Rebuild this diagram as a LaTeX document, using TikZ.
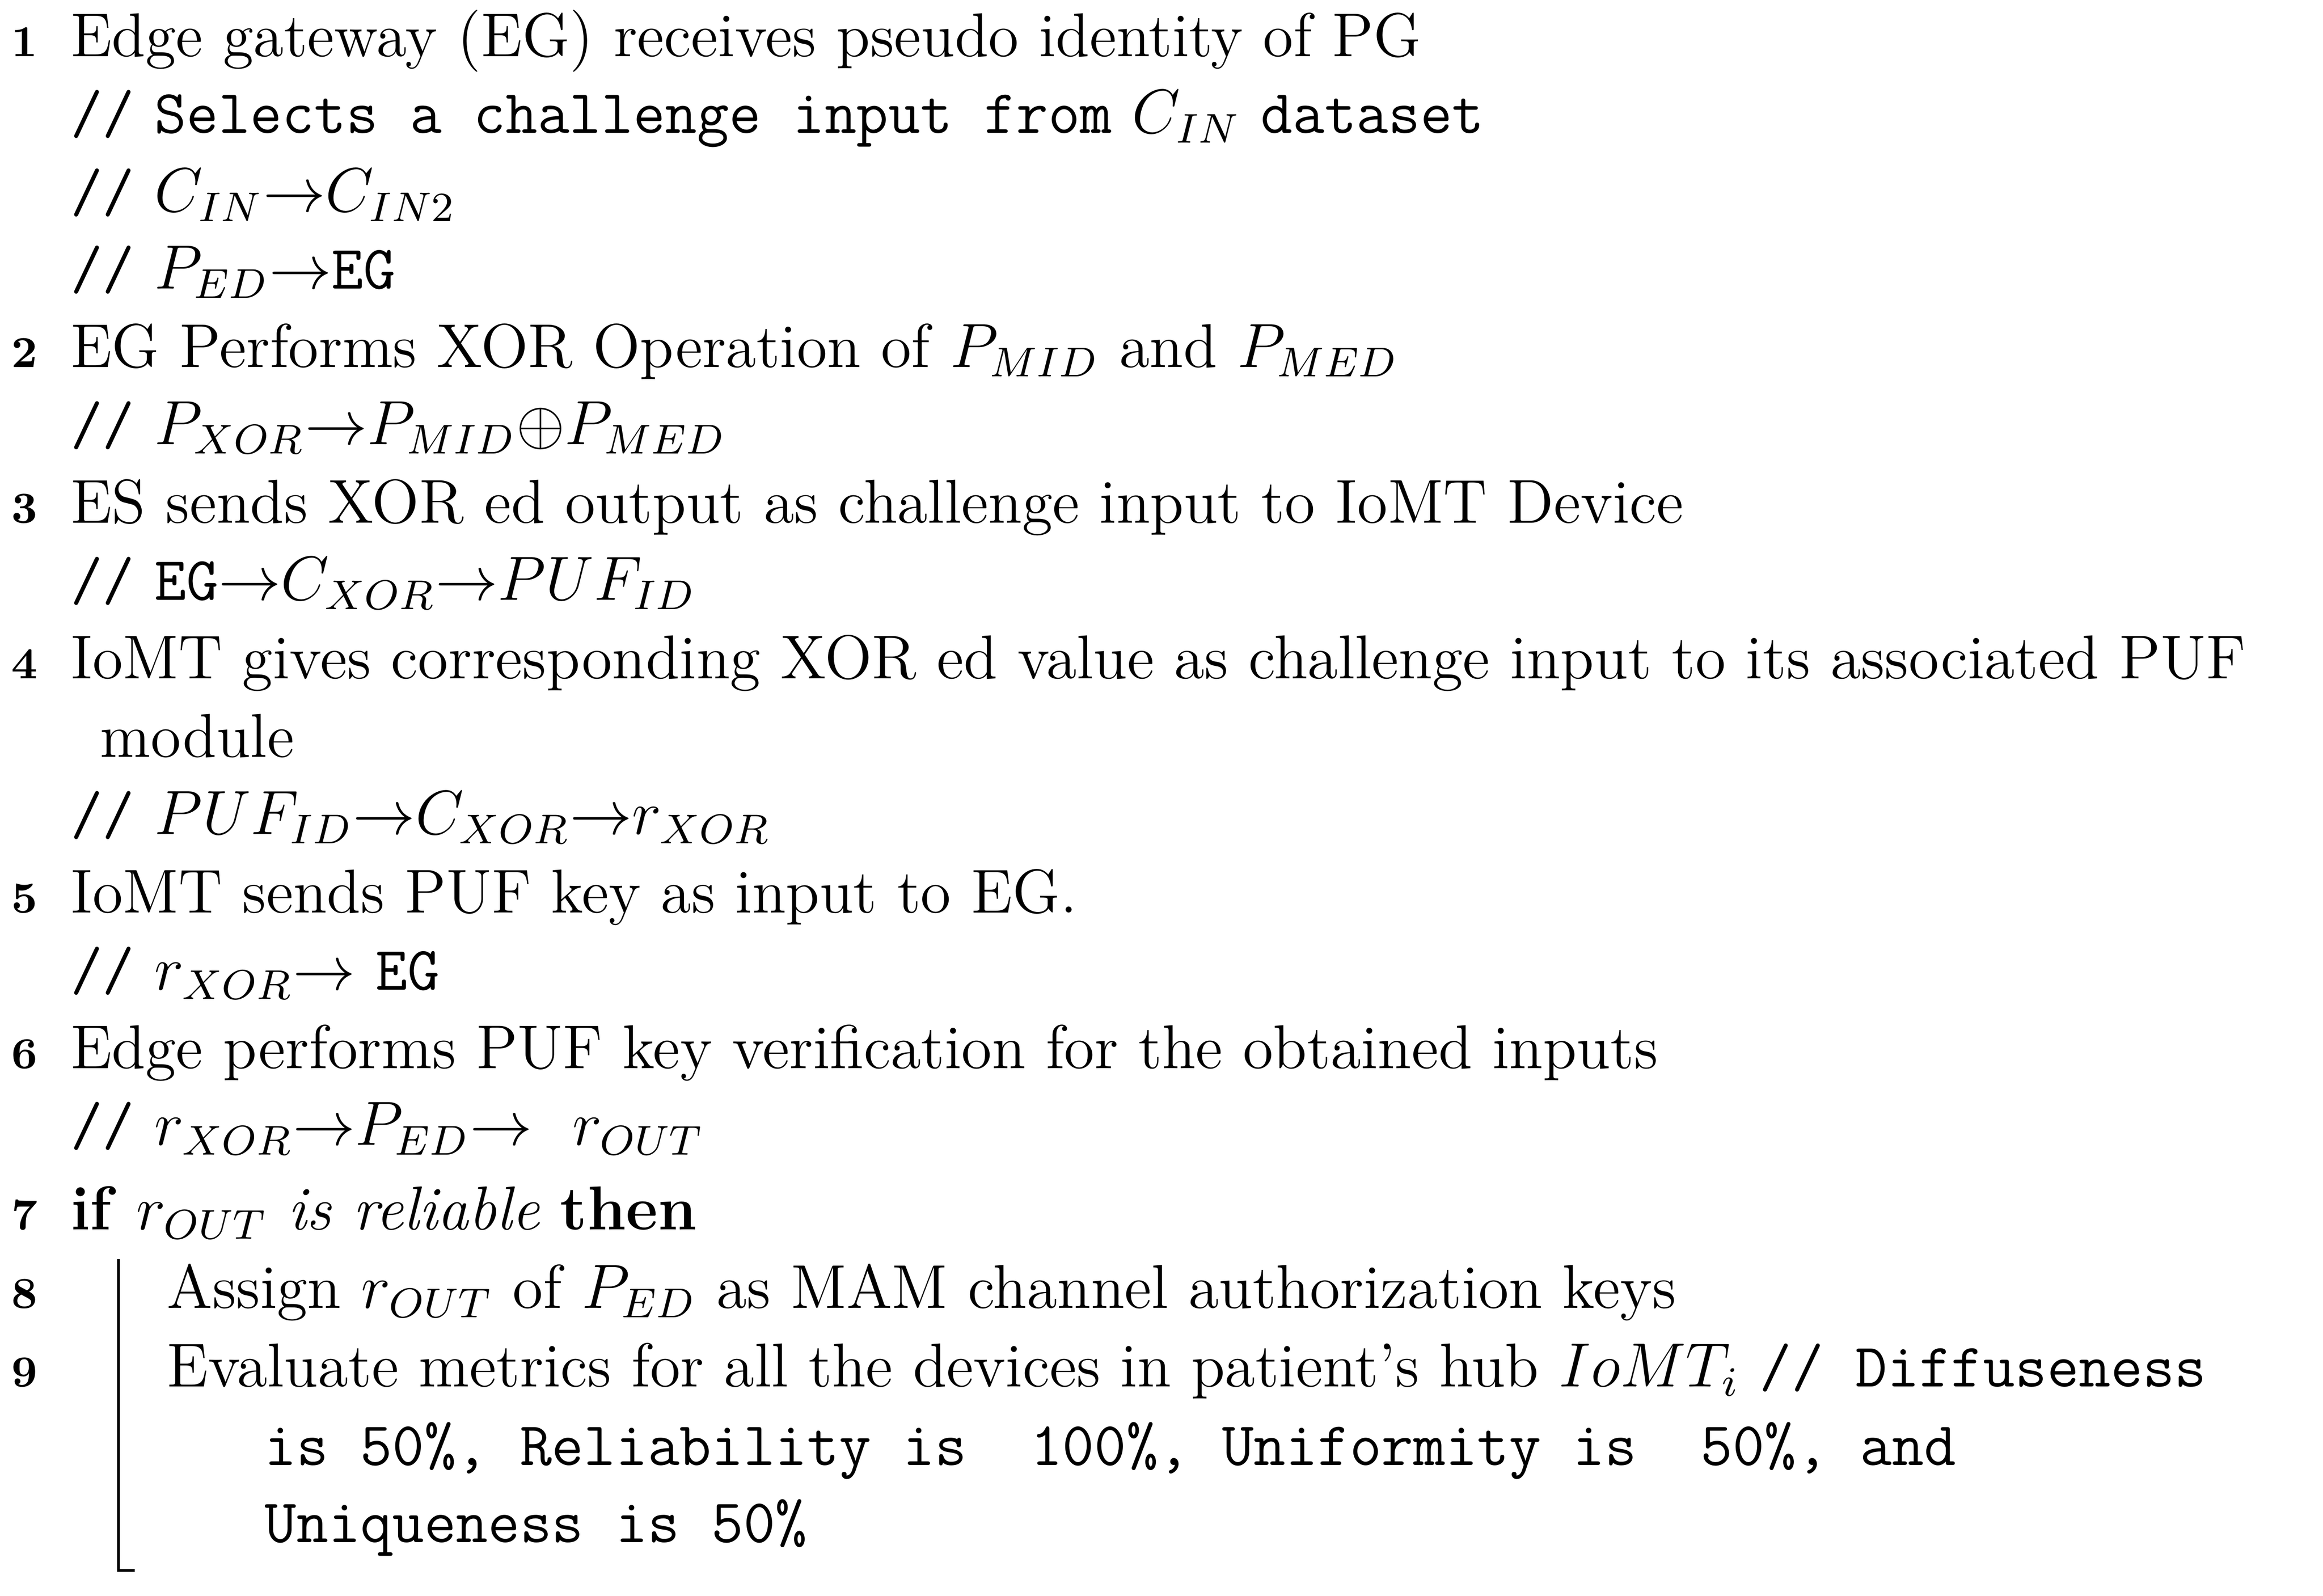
\documentclass[tikz,border=0pt]{standalone}
\begin{document}
\begin{tikzpicture}[x=0.1mm,y=-0.1mm,
  txt/.style={anchor=base west,inner sep=0pt,font=\fontsize{11.9}{14}\selectfont},
  num/.style={anchor=base east,inner sep=0pt,font=\fontsize{8.5}{10}\selectfont\bfseries}]
\useasboundingbox (0,0) rectangle (1568,1077);
\newcommand{\cm}{\texttt{//}\ }
\node[num] (n1) at (26,38) {1};
\node[txt] (l1) at (47,38) {Edge gateway (EG) receives pseudo identity of PG};
\node[txt] (c1) at (47,90) {\cm\texttt{Selects a challenge input from} $C_{IN}$ \texttt{dataset}};
\node[txt] (c2) at (47,143) {\cm$C_{IN}{\to}C_{IN2}$};
\node[txt] (c3) at (47,195) {\cm$P_{ED}{\to}$\texttt{EG}};
\node[num] (n2) at (26,248) {2};
\node[txt] (l2) at (47,248) {EG Performs XOR Operation of $P_{MID}$ and $P_{MED}$};
\node[txt] (c4) at (47,300) {\cm$P_{XOR}{\to}P_{MID}{\oplus}P_{MED}$};
\node[num] (n3) at (26,353) {3};
\node[txt] (l3) at (47,353) {ES sends XOR ed output as challenge input to IoMT Device};
\node[txt] (c5) at (47,405) {\cm\texttt{EG}${\to}C_{XOR}{\to}PUF_{ID}$};
\node[num] (n4) at (26,458) {4};
\node[txt] (l4) at (47,458) {IoMT gives corresponding XOR ed value as challenge input to its associated PUF};
\node[txt] (l4b) at (67,511) {module};
\node[txt] (c6) at (47,563) {\cm$PUF_{ID}{\to}C_{XOR}{\to}r_{XOR}$};
\node[num] (n5) at (26,616) {5};
\node[txt] (l5) at (47,616) {IoMT sends PUF key as input to EG.};
\node[txt] (c7) at (47,668) {\cm$r_{XOR}{\to}$ \texttt{EG}};
\node[num] (n6) at (26,721) {6};
\node[txt] (l6) at (47,721) {Edge performs PUF key verification for the obtained inputs};
\node[txt] (c8) at (47,773) {\cm$r_{XOR}{\to}P_{ED}{\to}$\ \ $r_{OUT}$};
\node[num] (n7) at (26,830) {7};
\node[txt] (l7) at (47,830) {\textbf{if} $r_{OUT}$ \textit{is reliable} \textbf{then}};
\node[num] (n8) at (26,883) {8};
\node[txt] (l8) at (112,883) {Assign $r_{OUT}$ of $P_{ED}$ as MAM channel authorization keys};
\node[num] (n9) at (26,936) {9};
\node[txt] (l9) at (112,936) {Evaluate metrics for all the devices in patient's hub $IoMT_i$ \texttt{// Diffuseness}};
\node[txt] (l9b) at (178,989) {\texttt{is 50\%, Reliability is\ \ 100\%, Uniformity is\ \ 50\%, and}};
\node[txt] (l9c) at (178,1041) {\texttt{Uniqueness is 50\%}};
\coordinate (b1) at (80,850);
\coordinate (b2) at (80,1060);
\coordinate (b3) at (91,1060);
\draw[line width=0.5pt] (b1) -- (b2) -- (b3);
\end{tikzpicture}
\end{document}
